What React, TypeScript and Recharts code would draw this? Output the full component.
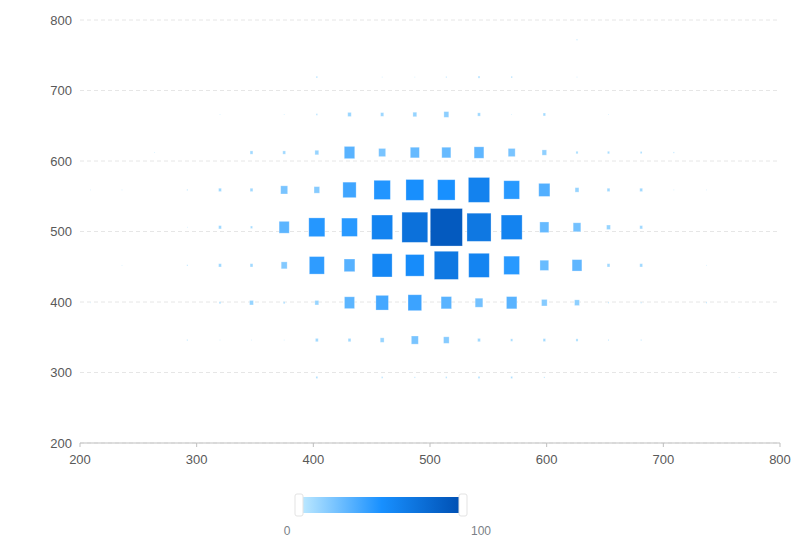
import React from 'react';
import {
  ScatterChart,
  Scatter,
  XAxis,
  YAxis,
  CartesianGrid,
} from 'recharts';

// grid positions (x columns, y rows)
const xValues = [209, 236, 264, 292, 320, 347, 375, 403, 431, 459, 487, 514, 542, 570, 598, 626, 653, 681, 709, 737, 765];
const yValues = [293, 346, 399, 452, 506, 559, 612, 666, 719, 772];

// one list of values per row, bottom to top (0 = no cell)
const row293 = [0, 0, 0, 0, 0, 0, 0, 5, 0, 4, 3, 4, 5, 5, 3, 0, 0, 0, 0, 0, 2];
const row346 = [0, 0, 0, 3, 2, 2, 2, 8, 8, 11, 20, 16, 8, 6, 7, 6, 3, 3, 0, 0, 0];
const row399 = [2, 0, 0, 0, 5, 11, 5, 11, 29, 36, 39, 30, 22, 30, 16, 14, 3, 3, 0, 3, 0];
const row452 = [0, 2, 0, 3, 8, 8, 17, 43, 31, 57, 53, 69, 59, 45, 25, 28, 8, 8, 0, 2, 0];
const row506 = [0, 0, 0, 2, 8, 6, 29, 46, 45, 60, 74, 92, 69, 60, 26, 22, 11, 8, 0, 0, 0];
const row559 = [2, 2, 0, 3, 8, 8, 20, 16, 38, 47, 51, 50, 61, 45, 32, 11, 8, 8, 2, 2, 0];
const row612 = [0, 0, 2, 0, 0, 8, 8, 11, 30, 20, 26, 26, 28, 20, 13, 6, 6, 5, 3, 0, 0];
const row666 = [0, 0, 0, 0, 2, 0, 2, 4, 10, 9, 11, 14, 8, 2, 7, 0, 2, 0, 0, 0, 0];
const row719 = [0, 0, 0, 0, 0, 0, 0, 4, 0, 2, 2, 3, 5, 4, 0, 2, 0, 0, 0, 0, 0];
const row772 = [0, 0, 0, 0, 0, 0, 0, 0, 0, 0, 0, 0, 0, 0, 0, 3, 0, 0, 0, 0, 0];

const axisTicks = [200, 300, 400, 500, 600, 700, 800];
const legendLabels = ['0', '100'];

const rows = [row293, row346, row399, row452, row506, row559, row612, row666, row719, row772];
const points = rows.flatMap((row, j) =>
  row
    .map((v, i) => ({ x: xValues[i], y: yValues[j], v }))
    .filter((p) => p.v > 0)
);
const vMax = Math.max(...points.map((p) => p.v));

const W = 800;
const H = 538;
const margin = { top: 20, right: 20, left: 0, bottom: 65 };
const Y_AXIS_W = 80;
const X_AXIS_H = 30;
const plotW = W - margin.left - margin.right - Y_AXIS_W;
const plotH = H - margin.top - margin.bottom - X_AXIS_H;
const cellW = ((xValues[1] - xValues[0] + xValues[20] - xValues[19]) / 2) * (plotW / 600);
const cellH = ((yValues[9] - yValues[0]) / 9) * (plotH / 600);

const stops = [
  [186, 231, 255],
  [24, 144, 255],
  [0, 80, 179],
];

function colorOf(v: number) {
  const t = Math.min(1, Math.max(0, v / 100)) * 2;
  const k = t < 1 ? 0 : 1;
  const f = t - k;
  const a = stops[k];
  const b = stops[k + 1];
  const c = a.map((x, n) => Math.round(x + (b[n] - x) * f));
  return `rgb(${c[0]},${c[1]},${c[2]})`;
}

const Cell = (props: any) => {
  const { cx, cy, payload } = props;
  const s = payload.v / vMax;
  const w = cellW * s;
  const h = cellH * s;
  return (
    <rect
      x={cx - w / 2}
      y={cy - h / 2}
      width={w}
      height={h}
      fill={colorOf(payload.v)}
      stroke="#ffffff"
      strokeOpacity={0.35}
      strokeWidth={0.8}
    />
  );
};

const tickStyle = { fill: '#595959', fontSize: 13 };

export default function App() {
  return (
    <div
      style={{
        position: 'absolute',
        left: 0,
        top: 0,
        width: W,
        height: H,
        background: '#fff',
        fontFamily: '"Liberation Sans", Arial, sans-serif',
      }}
    >
      <ScatterChart width={W} height={H} margin={margin}>
        <CartesianGrid vertical={false} strokeDasharray="4 3" stroke="#e6e6e6" />
        <XAxis
          type="number"
          dataKey="x"
          domain={[200, 800]}
          ticks={axisTicks}
          height={X_AXIS_H}
          tick={tickStyle}
          tickSize={4}
          tickMargin={8}
          stroke="#bfbfbf"
          tickLine={{ stroke: '#bfbfbf' }}
        />
        <YAxis
          type="number"
          dataKey="y"
          domain={[200, 800]}
          ticks={axisTicks}
          width={Y_AXIS_W}
          tick={tickStyle}
          axisLine={false}
          tickLine={false}
        />
        <Scatter data={points} shape={Cell} isAnimationActive={false} />
      </ScatterChart>

      <svg
        width={W}
        height={H}
        style={{ position: 'absolute', left: 0, top: 0, pointerEvents: 'none' }}
      >
        <defs>
          <linearGradient id="legendRamp" x1="0" y1="0" x2="1" y2="0">
            <stop offset="0%" stopColor="#BAE7FF" />
            <stop offset="50%" stopColor="#1890FF" />
            <stop offset="100%" stopColor="#0050B3" />
          </linearGradient>
        </defs>
        <rect x={303} y={497} width={157} height={16} fill="url(#legendRamp)" />
        <rect x={295} y={494} width={8} height={22} rx={2} fill="#fff" stroke="#e3e3e3" />
        <rect x={459} y={494} width={8} height={22} rx={2} fill="#fff" stroke="#e3e3e3" />
        <text x={287} y={535} textAnchor="middle" fontSize={12} fill="#7a7f87">
          {legendLabels[0]}
        </text>
        <text x={481} y={535} textAnchor="middle" fontSize={12} fill="#7a7f87">
          {legendLabels[1]}
        </text>
      </svg>
    </div>
  );
}
